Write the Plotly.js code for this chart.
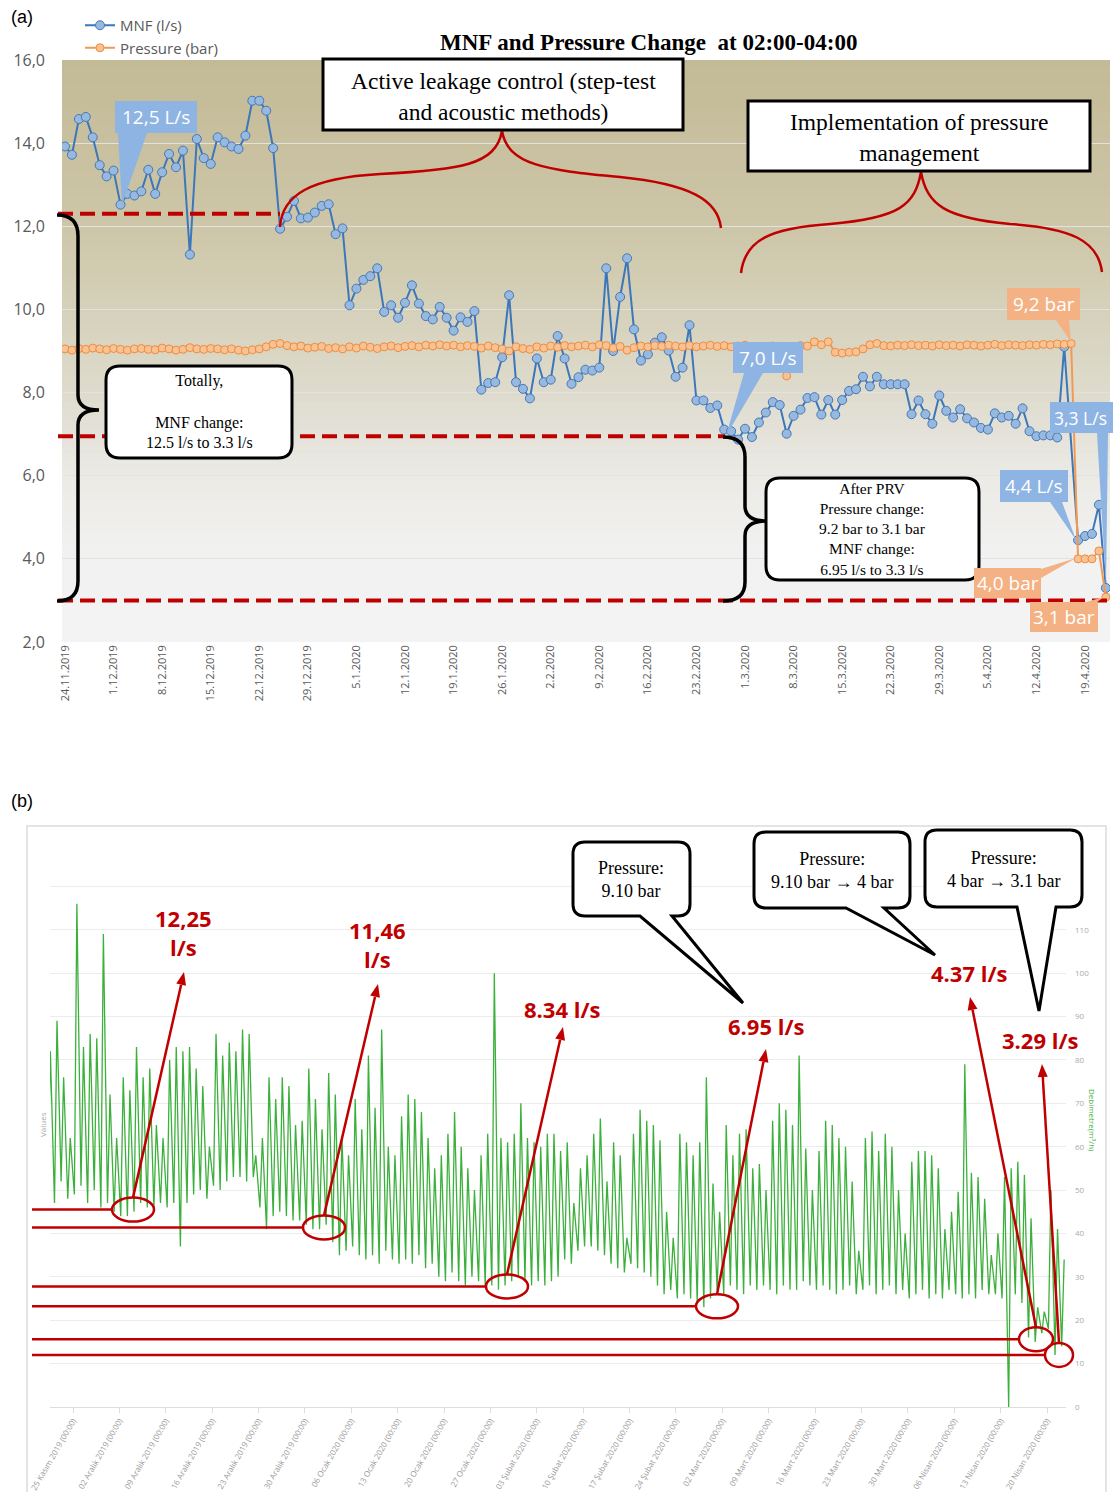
<!DOCTYPE html>
<html><head><meta charset="utf-8">
<script src="https://cdn.plot.ly/plotly-3.0.1.min.js"></script>
<style>html,body{margin:0;padding:0;background:#fff}#c{width:1113px;height:1492px}</style>
</head><body><div id="c"></div>
<script>
// ---------- DATA: panel (a) ----------
const mnfStartDate = '2019-11-24';
const mnfValues = [13.92,13.72,14.58,14.63,14.14,13.47,13.20,13.34,12.52,12.78,
12.74,12.84,13.36,12.78,13.30,13.74,13.42,13.82,11.32,14.10,
13.64,13.50,14.14,14.02,13.92,13.86,14.18,15.02,15.02,14.78,
13.88,11.94,12.23,12.61,12.19,12.21,12.33,12.49,12.53,11.81,
11.95,10.10,10.50,10.71,10.80,10.99,9.94,10.10,9.80,10.16,
10.58,10.14,9.84,9.76,10.06,9.80,9.49,9.81,9.70,9.96,
8.07,8.23,8.25,8.85,10.34,8.25,8.09,7.86,8.82,8.25,
8.31,9.36,8.82,8.21,8.37,8.55,8.53,8.60,10.99,9.00,
10.30,11.23,9.52,8.77,8.92,9.20,9.33,9.01,8.38,8.60,
9.62,7.81,7.81,7.63,7.69,7.11,7.07,6.87,7.13,6.93,
7.28,7.52,7.77,7.70,7.01,7.44,7.59,7.87,7.89,7.47,
7.82,7.47,7.82,8.04,8.08,8.38,8.15,8.38,8.20,8.20,
8.20,8.20,7.48,7.81,7.48,7.25,7.93,7.56,7.40,7.60,
7.38,7.28,7.15,7.11,7.50,7.40,7.44,7.25,7.62,7.07,
6.95,6.97,6.97,6.92,9.10,null,4.45,4.55,4.60,5.30,
3.30];
const pressureValues = [9.05,9.02,9.06,9.04,9.07,9.05,9.03,9.06,9.04,9.02,
9.05,9.06,9.04,9.03,9.07,9.05,9.02,9.04,9.08,9.05,
9.04,9.06,9.05,9.03,9.05,9.02,9.00,9.03,9.05,9.10,
9.16,9.18,9.13,9.10,9.12,9.07,9.09,9.11,9.06,9.08,
9.05,9.10,9.07,9.12,9.09,9.06,9.10,9.12,9.08,9.11,
9.13,9.10,9.14,9.12,9.15,9.12,9.14,9.10,9.13,9.11,
9.07,9.12,9.08,9.05,9.00,9.10,9.06,9.04,9.10,9.07,
9.12,9.09,9.13,9.10,9.12,9.14,9.10,9.15,9.13,9.07,
9.11,9.02,9.08,9.12,9.10,9.13,9.11,9.14,9.12,9.10,
9.13,9.10,9.12,9.14,9.11,9.13,9.10,9.12,9.14,9.05,
9.08,9.10,9.12,9.11,8.40,9.10,9.13,9.12,9.22,9.15,
9.22,8.97,8.95,8.97,8.98,9.05,9.15,9.18,9.13,9.12,
9.14,9.13,9.15,9.13,9.14,9.12,9.15,9.13,9.14,9.12,
9.15,9.14,9.12,9.14,9.16,9.13,9.15,9.14,9.13,9.15,
9.14,9.16,9.15,9.17,9.16,9.18,4.00,4.00,4.00,4.19,
3.08];
const aTickDates = ['2019-11-24','2019-12-01','2019-12-08','2019-12-15','2019-12-22','2019-12-29',
'2020-01-05','2020-01-12','2020-01-19','2020-01-26','2020-02-02','2020-02-09','2020-02-16',
'2020-02-23','2020-03-01','2020-03-08','2020-03-15','2020-03-22','2020-03-29','2020-04-05',
'2020-04-12','2020-04-19'];
const aLevels = [12.3, 6.95, 3.0];   // red dashed MNF levels

// ---------- DATA: panel (b) ----------
const flowStartDate = '2019-11-21';
const flowPeak = [82,89,76,62,116,83,86,85,109,72,
62,76,73,83,76,78,65,62,80,83,
82,83,78,74,60,86,81,84,82,87,
86,58,62,76,71,76,74,65,66,78,
71,64,77,72,62,58,71,64,81,69,
87,60,58,67,72,71,68,62,55,58,
63,68,60,55,50,58,63,100,62,61,
63,70,62,61,60,63,63,59,61,47,
55,58,63,66.5,52,61,58,39,63,68.5,
66,65,61.5,45,39,63,61,58,61,76,
51.5,45,65,58,63,64,55,56,50,66,
70,68.5,65,81,59.6,50,59,66,65,62,
60,52,36,62,63.5,59,63,60,50,40,
56.5,59,59,58,55,41,45,49.6,79,54,
53,48,35,40,53,55,56.5,53.5,43.5,23,
22,50,41,34];
const flowTrough = [50,47,52,48,49,51,47,50,46,47,
45,44,44,45,47,46,46,47,46,47,
37,47,49,50,48,51,50,52,53,53,
52,53,46,41,44,45,44,43,43,42,
41,41,42,38,35,36,37,35,34,35,
33,36,34,33,34,33,35,32,33,30,
29,31,29,28,30,29,28,28,27,28,
29,30,29,28,29,28,29,30,34,33,
36,37,37,36,35,33,32,31,33,32,
31,30,28,26,27,25,26,25,24,23,
25,27,26,28,27,26,28,27,28,27,
26,28,27,27,29,28,27,28,27,26,
27,28,26,27,28,26,27,28,26,27,
25,26,27,25,26,25,27,26,25,26,
25,27,26,26,25,0,26,24,16,15,
17,18,12,14];
const bTickDates = ['2019-11-25','2019-12-02','2019-12-09','2019-12-16','2019-12-23','2019-12-30',
'2020-01-06','2020-01-13','2020-01-20','2020-01-27','2020-02-03','2020-02-10','2020-02-17',
'2020-02-24','2020-03-02','2020-03-09','2020-03-16','2020-03-23','2020-03-30','2020-04-06',
'2020-04-13','2020-04-20'];
const bTickLabels = ['25 Kasım 2019 (00:00)','02 Aralık 2019 (00:00)','09 Aralık 2019 (00:00)','16 Aralık 2019 (00:00)',
'23 Aralık 2019 (00:00)','30 Aralık 2019 (00:00)','06 Ocak 2020 (00:00)','13 Ocak 2020 (00:00)','20 Ocak 2020 (00:00)',
'27 Ocak 2020 (00:00)','03 Şubat 2020 (00:00)','10 Şubat 2020 (00:00)','17 Şubat 2020 (00:00)','24 Şubat 2020 (00:00)',
'02 Mart 2020 (00:00)','09 Mart 2020 (00:00)','16 Mart 2020 (00:00)','23 Mart 2020 (00:00)','30 Mart 2020 (00:00)',
'06 Nisan 2020 (00:00)','13 Nisan 2020 (00:00)','20 Nisan 2020 (00:00)'];
const bYTicks = [0,10,20,30,40,50,60,70,80,90,100,110,120,130];
const bLevels = [45.5, 41.4, 27.8, 23.2, 15.6, 12.0];  // red marked night-flow levels (m3/h)
const bLevelLabels = ['<b>12,25<br>l/s</b>','<b>11,46<br>l/s</b>','<b>8.34 l/s</b>','<b>6.95 l/s</b>','<b>4.37 l/s</b>','<b>3.29 l/s</b>'];

// ---------- helpers ----------
const W = 1113, H = 1492;
const px = x => x / W, py = y => 1 - y / H;
const DAY = 864e5, HR = 36e5;
function fmt(ms){ return new Date(ms).toISOString().slice(0,16).replace('T',' '); }
function utc(s){ const p = s.split('-').map(Number); return Date.UTC(p[0], p[1]-1, p[2]); }
function path(tokens){
  let out = '', n = 0;
  tokens.forEach(t => {
    if (typeof t === 'string'){ out += t; n = 0; }
    else { out += (n % 2 === 0 ? px(t).toFixed(5) : py(t).toFixed(5)) + (n % 2 === 0 ? ',' : ' '); n++; }
  });
  return out;
}
function rrect(x0,y0,x1,y1,r,w){
  const t = ['M',x0+r,y0,'L',x1-r,y0,'Q',x1,y0,x1,y0+r,'L',x1,y1-r,'Q',x1,y1,x1-r,y1];
  if (w){ t.push('L',w[1],y1,'L',w[2],w[3],'L',w[0],y1); }
  t.push('L',x0+r,y1,'Q',x0,y1,x0,y1-r,'L',x0,y0+r,'Q',x0,y0,x0+r,y0,'Z');
  return path(t);
}

// ---------- traces ----------
const s0 = utc(mnfStartDate);
const aDates = mnfValues.map((_, i) => fmt(s0 + i*DAY).slice(0,10));
const f0 = utc(flowStartDate);
const gx = [], gy = [];
flowPeak.forEach((p, d) => {
  gx.push(fmt(f0 + d*DAY + 5*HR)); gy.push(flowTrough[d]);
  gx.push(fmt(f0 + d*DAY + 14*HR)); gy.push(p);
});

const traces = [
  {x: aDates, y: mnfValues, name: 'MNF (l/s)', mode: 'lines+markers', connectgaps: true,
   xaxis: 'x', yaxis: 'y',
   line: {color: '#3b77ba', width: 2},
   marker: {size: 9, color: '#98b9df', line: {color: '#4677b5', width: 1}}},
  {x: aDates, y: pressureValues, name: 'Pressure (bar)', mode: 'lines+markers',
   xaxis: 'x', yaxis: 'y',
   line: {color: '#f39a52', width: 2},
   marker: {size: 8, color: '#f9c293', line: {color: '#ee8c3e', width: 1}}},
  {x: gx, y: gy, mode: 'lines', xaxis: 'x2', yaxis: 'y2', showlegend: false, hoverinfo: 'skip',
   line: {color: '#3cb03c', width: 1.3}}
];

// ---------- shapes ----------
const shapes = [];
const stops = [[0,[195,186,150]],[0.29,[205,198,168]],[0.57,[222,219,205]],[0.715,[235,234,229]],[0.86,[242,242,242]],[1,[243,243,243]]];
function gcol(f){
  for (let i=0;i<stops.length-1;i++){
    const a=stops[i], b=stops[i+1];
    if (f>=a[0] && f<=b[0]){
      const t=(f-a[0])/(b[0]-a[0]);
      const c=a[1].map((v,k)=>Math.round(v+(b[1][k]-v)*t));
      return 'rgb('+c.join(',')+')';
    }
  }
  return 'rgb(243,243,243)';
}
const NB = 90;
for (let i=0;i<NB;i++){
  shapes.push({type:'rect', xref:'x domain', yref:'y domain', layer:'below',
    x0:0, x1:1, y0:Math.max(0,1-(i+1)/NB-0.002), y1:1-i/NB,
    fillcolor:gcol((i+0.5)/NB), line:{width:0}});
}
const aLevelEnds = [280, 725, 1110];
aLevels.forEach((v,i) => shapes.push({type:'line', xref:'paper', yref:'y', x0:px(58), x1:px(aLevelEnds[i]), y0:v, y1:v,
  line:{color:'#c00000', width:4, dash:'15px,7px'}}));
shapes.push({type:'path', xref:'paper', yref:'paper', line:{color:'#c00000', width:2.5},
  path: path(['M',280,227,'C',282,195,310,178,380,174,'C',460,170,496,165,502,131,'C',508,165,545,170,620,177,'C',690,184,718,200,721,228])});
shapes.push({type:'path', xref:'paper', yref:'paper', line:{color:'#c00000', width:2.5},
  path: path(['M',741,273,'C',745,240,770,228,830,224,'C',900,218,915,205,921,172,'C',927,205,945,218,1010,224,'C',1070,228,1098,240,1102,272])});
shapes.push({type:'path', xref:'paper', yref:'paper', line:{color:'black', width:3.5},
  path: path(['M',57,215,'Q',78,215,78,236,'L',78,395,'Q',78,410,99,410,'Q',78,410,78,425,'L',78,581,'Q',78,601,57,601])});
shapes.push({type:'path', xref:'paper', yref:'paper', line:{color:'black', width:3.5},
  path: path(['M',723,437,'Q',745,437,745,457,'L',745,506,'Q',745,521,767,521,'Q',745,521,745,536,'L',745,582,'Q',745,601,723,601])});
shapes.push({type:'rect', xref:'paper', yref:'paper', x0:px(323), x1:px(683), y0:py(130), y1:py(59), fillcolor:'white', line:{color:'black', width:3}});
shapes.push({type:'rect', xref:'paper', yref:'paper', x0:px(748), x1:px(1090), y0:py(171), y1:py(101), fillcolor:'white', line:{color:'black', width:3}});
shapes.push({type:'path', xref:'paper', yref:'paper', fillcolor:'white', line:{color:'black', width:3}, path: rrect(106,366,292,458,14)});
shapes.push({type:'path', xref:'paper', yref:'paper', fillcolor:'white', line:{color:'black', width:3}, path: rrect(766,478,979,580,14)});
const callouts = [
  {t:'12,5 L/s', c:'#8eb4e3', r:[115,101,197,133], w:[[118,133],[147,133],[122,205]], cx:156},
  {t:'7,0 L/s', c:'#8eb4e3', r:[733,342,803,373], w:[[744,373],[763,373],[726,436]], cx:768},
  {t:'9,2 bar', c:'#f4b183', r:[1007,288,1080,320], w:[[1056,320],[1069,320],[1071,342]], cx:1043.5},
  {t:'3,3 L/s', c:'#8eb4e3', r:[1050,402,1118,433], w:[[1097,433],[1108,433],[1106,586]], cx:1080},
  {t:'4,4 L/s', c:'#8eb4e3', r:[1000,470,1068,502], w:[[1050,502],[1062,502],[1076,540]], cx:1034},
  {t:'4,0 bar', c:'#f4b183', r:[974,568,1041,598], w:[[1041,569],[1041,578],[1076,558]], cx:1007.5},
  {t:'3,1 bar', c:'#f4b183', r:[1030,602,1098,632], w:[[1086,602],[1097,602],[1104,597]], cx:1064}
];
callouts.forEach(o => {
  shapes.push({type:'rect', xref:'paper', yref:'paper', x0:px(o.r[0]), x1:px(o.r[2]), y0:py(o.r[3]), y1:py(o.r[1]), fillcolor:o.c, line:{width:0}});
  shapes.push({type:'path', xref:'paper', yref:'paper', fillcolor:o.c, line:{width:0},
    path: path(['M',o.w[0][0],o.w[0][1],'L',o.w[1][0],o.w[1][1],'L',o.w[2][0],o.w[2][1],'Z'])});
});
shapes.push({type:'rect', xref:'paper', yref:'paper', x0:px(27), x1:px(1106), y0:py(1497), y1:py(826), line:{color:'#dcdcdc', width:1.5}, layer:'below'});
const yB = v => 1407 - v*(564/130);
const bLineEnd = [112, 303, 486, 696, 1019, 1045];
const bEll = [[133,21,12],[324,21,12],[507,21,12],[717,21,12],[1036,17,12],[1059,14,12]];
const bTip = [[184,972],[378,984],[563,1027],[766,1049],[970,997],[1042,1064]];
bLevels.forEach((v,i) => {
  const yy = yB(v);
  shapes.push({type:'line', xref:'paper', yref:'y2', x0:px(32), x1:px(bLineEnd[i]), y0:v, y1:v, line:{color:'#c00000', width:2.5}});
  const e = bEll[i];
  shapes.push({type:'circle', xref:'paper', yref:'paper', x0:px(e[0]-e[1]), x1:px(e[0]+e[1]), y0:py(yy+e[2]), y1:py(yy-e[2]), line:{color:'#c00000', width:2.5}});
  const tx = e[0], ty = yy - e[2];
  const [hx, hy] = bTip[i];
  const dx = hx - tx, dy = hy - ty, L = Math.hypot(dx, dy), ux = dx/L, uy = dy/L;
  const bx = hx - ux*13, by = hy - uy*13;
  shapes.push({type:'line', xref:'paper', yref:'paper', x0:px(tx), y0:py(ty), x1:px(bx), y1:py(by), line:{color:'#c00000', width:2.5}});
  shapes.push({type:'path', xref:'paper', yref:'paper', fillcolor:'#c00000', line:{width:0},
    path: path(['M',hx,hy,'L',bx - uy*5,by + ux*5,'L',bx + uy*5,by - ux*5,'Z'])});
});
shapes.push({type:'path', xref:'paper', yref:'paper', fillcolor:'white', line:{color:'black', width:3}, path: rrect(573,842,690,916,12,[640,672,743,1003])});
shapes.push({type:'path', xref:'paper', yref:'paper', fillcolor:'white', line:{color:'black', width:3}, path: rrect(754,832,910,908,12,[846,884,935,955])});
shapes.push({type:'path', xref:'paper', yref:'paper', fillcolor:'white', line:{color:'black', width:3}, path: rrect(925,830,1082,907,12,[1017,1056,1039,1011])});

// ---------- annotations ----------
const serif = 'Liberation Serif, Times New Roman, serif';
const ann = [];
const T = (x,y,text,font,extra) => ann.push(Object.assign({xref:'paper', yref:'paper', x:px(x), y:py(y), text, showarrow:false, xanchor:'center', yanchor:'middle', font}, extra||{}));
T(22,17,'(a)',{family:'Liberation Sans, Arial', size:18, color:'black'});
T(22,801,'(b)',{family:'Liberation Sans, Arial', size:18, color:'black'});
T(648,42,'<b>MNF and Pressure Change\u00A0\u00A0at 02:00-04:00</b>',{family:serif, size:23, color:'black'});
T(503,96,'Active leakage control (step-test<br>and acoustic methods)',{family:serif, size:23.5, color:'black'});
T(919,137,'Implementation of pressure<br>management',{family:serif, size:23.5, color:'black'});
T(199,412,'Totally,<br><br>MNF change:<br>12.5 l/s to 3.3 l/s',{family:serif, size:16, color:'black'});
T(872,529,'After PRV<br>Pressure change:<br>9.2 bar to 3.1 bar<br>MNF change:<br>6.95 l/s to 3.3 l/s',{family:serif, size:15.5, color:'black'});
callouts.forEach(o => T(o.cx, (o.r[1]+o.r[3])/2, o.t, {family:'Open Sans, sans-serif', size:(o.t==='3,3 L/s'?17.5:19), color:'white'}));
T(631,879,'Pressure:<br>9.10 bar',{family:serif, size:18, color:'black'});
T(832,870,'Pressure:<br>9.10 bar → 4 bar',{family:serif, size:18, color:'black'});
T(1003,869,'Pressure:<br>4 bar → 3.1 bar',{family:serif, size:18, color:'black'});
const bLabelPos = [[183,932],[377,944],[562,1009],[766,1026],[969,973],[1040,1040]];
bLevelLabels.forEach((t,i) => T(bLabelPos[i][0], bLabelPos[i][1], t, {family:'Open Sans, sans-serif', size:22, color:'#c00000'}));
T(42,1125,'Values',{family:'Open Sans, sans-serif', size:8, color:'#aaaaaa'},{textangle:-90});
T(1093,1120,'Debimetre(m³/h)',{family:'Open Sans, sans-serif', size:8, color:'#3cb03c'},{textangle:90});

// ---------- layout ----------
const layout = {
  width: W, height: H, margin: {l:0, r:0, t:0, b:0},
  paper_bgcolor: 'white', plot_bgcolor: 'white', separators: ', ',
  showlegend: true,
  legend: {x: px(80), y: py(9), xanchor: 'left', yanchor: 'top', bgcolor: 'rgba(0,0,0,0)',
    font: {family: 'Open Sans, sans-serif', size: 15, color: '#595959'}, tracegroupgap: 0, itemwidth: 30},
  xaxis: {type: 'date', domain: [px(62), px(1110)], range: ['2019-11-23 13:38', '2020-04-22 14:24'],
    anchor: 'y', tickvals: aTickDates, tickformat: '%-d.%-m.%Y', tickangle: -90,
    tickfont: {family: 'Open Sans, sans-serif', size: 11, color: '#595959'},
    showgrid: false, zeroline: false, showline: false, ticks: ''},
  yaxis: {domain: [py(642), py(60)], range: [2, 16], dtick: 2, tick0: 2, tickformat: '.1f', anchor: 'x',
    tickfont: {family: 'Open Sans, sans-serif', size: 16, color: '#595959'}, ticklabelstandoff: 16,
    gridcolor: '#e2e2e0', gridwidth: 1, zeroline: false, showline: false},
  xaxis2: {type: 'date', domain: [px(50), px(1066)], range: ['2019-11-21 12:41', '2020-04-22 20:38'],
    anchor: 'y2', tickvals: bTickDates, ticktext: bTickLabels, tickangle: -60,
    tickfont: {family: 'Open Sans, sans-serif', size: 8, color: '#9a9a9a'},
    ticks: 'outside', ticklen: 5, tickcolor: '#dddddd', showgrid: false, zeroline: false, showline: false},
  yaxis2: {domain: [py(1407), py(843)], range: [0, 130], anchor: 'x2', side: 'right',
    tickvals: bYTicks, ticktext: bYTicks.map(v => v <= 110 ? String(v) : ''),
    tickfont: {family: 'Open Sans, sans-serif', size: 8, color: '#aaaaaa'}, ticklabelstandoff: 8,
    gridcolor: '#ececec', zeroline: true, zerolinecolor: '#dddddd', showline: false, ticks: ''},
  shapes: shapes,
  annotations: ann
};
Plotly.newPlot('c', traces, layout, {displayModeBar: false, staticPlot: true});
</script>
</body></html>
